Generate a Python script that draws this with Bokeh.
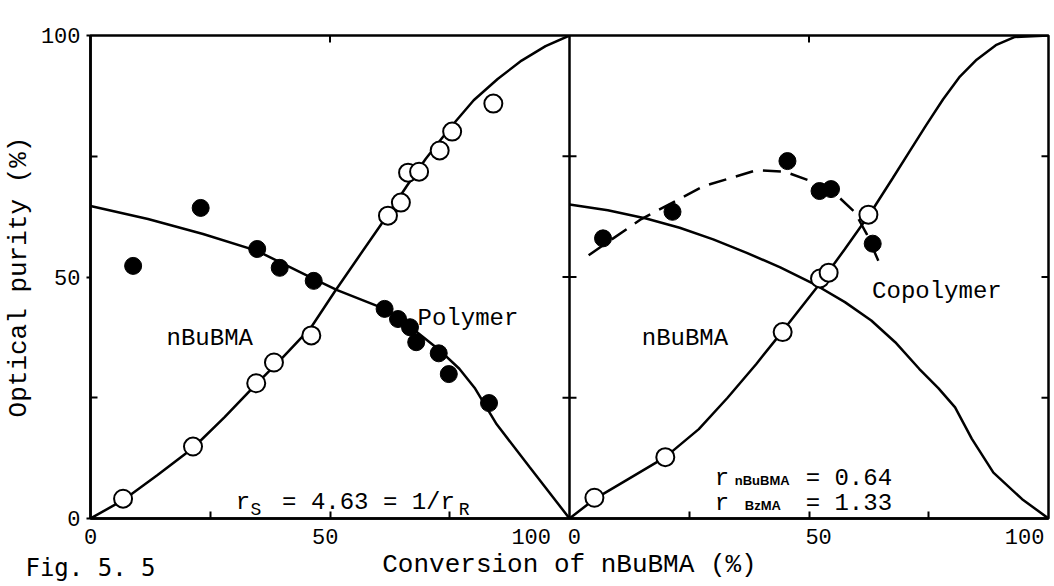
import math
from bokeh.plotting import figure
from bokeh.models import FixedTicker, Label, Span, Range1d, LinearAxis
from bokeh.embed import file_html
from bokeh.resources import INLINE

# ---------------- data ----------------
# Left panel: homopolymerization ("Polymer"), x = conversion of nBuBMA (%)
left_open_x = [6.8, 21.4, 34.6, 38.3, 46.1, 62.1, 64.8, 66.3, 68.6, 72.9, 75.5, 84.1]
left_open_y = [4.1, 14.9, 28.0, 32.3, 37.9, 62.7, 65.4, 71.6, 71.8, 76.2, 80.1, 85.9]
left_filled_x = [8.9, 23.0, 34.8, 39.5, 46.6, 61.4, 64.2, 66.7, 68.0, 72.7, 74.8, 83.2]
left_filled_y = [52.3, 64.3, 55.8, 51.9, 49.2, 43.4, 41.3, 39.6, 36.5, 34.2, 29.9, 23.9]

left_poly_curve_x = [0, 6.8, 14, 21.4, 28, 34.6, 40, 46, 51, 56, 62, 66, 70, 75, 80, 85, 90, 95, 100]
left_poly_curve_y = [0, 3.8, 9.0, 14.6, 21.0, 27.8, 33.2, 39.5, 47.0, 54.2, 62.8, 68.8, 74.5, 80.8, 86.6, 91.0, 94.8, 97.8, 100]
left_mono_curve_x = [0, 12, 23.5, 34.8, 46.6, 51.5, 61.4, 67, 72.7, 77, 80.3, 84.8, 91.7, 100]
left_mono_curve_y = [64.7, 62.0, 58.9, 55.4, 49.6, 47.3, 43.4, 39.5, 35.0, 31.0, 26.9, 19.5, 10.6, 0]

# Right panel: copolymerization ("Copolymer")
right_open_x = [5.2, 20.0, 44.5, 52.3, 54.1, 62.4]
right_open_y = [4.3, 12.7, 38.6, 49.7, 50.9, 62.9]
right_filled_x = [7.0, 21.5, 45.5, 52.2, 54.6, 63.3]
right_filled_y = [58.0, 63.5, 74.0, 67.8, 68.2, 56.9]

right_dash_curve_x = [4.0, 15.0, 28.0, 39.0, 45.0, 50.5, 55.5, 59.5, 62.0, 64.5]
right_dash_curve_y = [54.5, 62.0, 68.8, 72.1, 71.8, 69.8, 67.2, 63.5, 59.0, 53.3]
right_poly_curve_x = [0, 5.2, 12, 20, 27, 33, 39, 44.5, 52, 57.5, 63, 67.5, 71, 74.5, 78, 81.5, 85, 89, 93, 100]
right_poly_curve_y = [0, 4.0, 8.0, 12.7, 18.5, 25.0, 32.0, 38.8, 48.3, 55.8, 63.5, 70.5, 76.0, 81.5, 86.8, 91.5, 95.0, 98.0, 99.7, 100]
right_mono_curve_x = [0, 8, 16, 23, 30, 37, 44, 51.5, 57.5, 63, 68, 73, 77, 80.5, 84, 88.5, 94.5, 100]
right_mono_curve_y = [65.0, 63.8, 62.1, 60.2, 57.8, 55.0, 52.0, 48.3, 44.8, 41.0, 36.5, 31.0, 27.0, 23.0, 16.5, 9.5, 4.0, 0]

# tick labels
x_tick_labels = ["0", "50", "100", "0", "50", "100"]
y_tick_labels = ["0", "50", "100"]
figure_number = "Fig. 5. 5"

# ---------------- layout / style constants ----------------
OFFSET = 100  # right panel is drawn on the same x scale, shifted by 100
X_LABEL_POS = [0, 49, 92, 101, 152, 195]
X_TICK_MARKS = [25, 50, 75, 125, 150, 175]
Y_LABEL_POS = [0, 50, 100]
Y_TICK_MARKS = [25, 75]
FRAME_TICKS = [25, 50, 75]
MONO = "Liberation Mono"
BLACK = "black"
LW = 2.5


def shift(xs):
    return [x + OFFSET for x in xs]


p = figure(width=1052, height=586, x_range=Range1d(0, 200), y_range=Range1d(0, 100),
           output_backend="svg", toolbar_location=None,
           min_border_left=84, min_border_right=4, min_border_top=35, min_border_bottom=68,
           x_axis_label="Conversion of nBuBMA (%)", y_axis_label="Optical purity (%)")
p.grid.visible = False
p.background_fill_color = "white"
p.border_fill_color = "white"
p.outline_line_color = BLACK
p.outline_line_width = LW

# x axis
xax = p.xaxis[0]
xax.ticker = FixedTicker(ticks=X_LABEL_POS, minor_ticks=X_TICK_MARKS)
xax.major_label_overrides = {pos: lab for pos, lab in zip(X_LABEL_POS, x_tick_labels)}
xax.major_tick_in = 0
xax.major_tick_out = 0
xax.minor_tick_in = 7
xax.minor_tick_out = 0
xax.minor_tick_line_width = 2
xax.axis_line_width = LW
xax.major_label_standoff = 10
xax.major_label_text_font = MONO
xax.major_label_text_font_size = "22px"
xax.major_label_text_color = BLACK
xax.axis_label_standoff = 3
xax.axis_label_text_font = MONO
xax.axis_label_text_font_size = "26px"
xax.axis_label_text_font_style = "normal"
xax.axis_label_text_color = BLACK

# figure number: an extra, line-less axis below, pulled up into the title row
fig_axis = LinearAxis(ticker=FixedTicker(ticks=[0]), major_label_overrides={0: figure_number},
                      axis_line_color=None, major_tick_line_color=None,
                      minor_tick_line_color=None, major_label_standoff=-35,
                      major_label_text_font="DejaVu Sans Mono",
                      major_label_text_font_size="24px", major_label_text_color=BLACK)
p.add_layout(fig_axis, "below")

# y axis
yax = p.yaxis[0]
yax.ticker = FixedTicker(ticks=Y_LABEL_POS, minor_ticks=Y_TICK_MARKS)
yax.major_label_overrides = {pos: lab for pos, lab in zip(Y_LABEL_POS, y_tick_labels)}
yax.major_tick_in = 0
yax.major_tick_out = 4
yax.major_tick_line_width = 2
yax.minor_tick_in = 7
yax.minor_tick_out = 0
yax.minor_tick_line_width = 2
yax.axis_line_width = LW
yax.major_label_standoff = 6
yax.major_label_text_font = MONO
yax.major_label_text_font_size = "22px"
yax.major_label_text_color = BLACK
yax.axis_label_standoff = 4
yax.axis_label_text_font = MONO
yax.axis_label_text_font_size = "26px"
yax.axis_label_text_font_style = "normal"
yax.axis_label_text_color = BLACK

# shared boundary between the two panels + frame ticks
p.add_layout(Span(location=OFFSET, dimension="height", line_color=BLACK, line_width=LW))
p.scatter(x=[OFFSET] * len(FRAME_TICKS), y=FRAME_TICKS, marker="dash", size=14,
          line_color=BLACK, line_width=2)
p.scatter(x=[2 * OFFSET] * len(FRAME_TICKS), y=FRAME_TICKS, marker="dash", size=14,
          line_color=BLACK, line_width=2)
p.scatter(x=[50, 50 + OFFSET], y=[100, 100], marker="dash", angle=math.pi / 2, size=14,
          line_color=BLACK, line_width=2)

# curves
p.line(left_poly_curve_x, left_poly_curve_y, line_color=BLACK, line_width=LW)
p.line(left_mono_curve_x, left_mono_curve_y, line_color=BLACK, line_width=LW)
p.line(shift(right_poly_curve_x), right_poly_curve_y, line_color=BLACK, line_width=LW)
p.line(shift(right_mono_curve_x), right_mono_curve_y, line_color=BLACK, line_width=LW)
p.line(shift(right_dash_curve_x), right_dash_curve_y, line_color=BLACK, line_width=LW,
       line_dash="18 10")

# points
p.scatter(left_filled_x, left_filled_y, size=17, fill_color=BLACK, line_color=BLACK)
p.scatter(shift(right_filled_x), right_filled_y, size=17, fill_color=BLACK, line_color=BLACK)
p.scatter(left_open_x, left_open_y, size=18, fill_color="white", line_color=BLACK, line_width=2)
p.scatter(shift(right_open_x), right_open_y, size=18, fill_color="white", line_color=BLACK,
          line_width=2)


def lab(x, y, text, size="24px", font=MONO, align="center", baseline="middle", style="normal"):
    p.add_layout(Label(x=x, y=y, text=text, text_font=font, text_font_size=size,
                       text_align=align, text_baseline=baseline, text_color=BLACK,
                       text_font_style=style))


# panel annotations
lab(24.9, 37.2, "nBuBMA")
lab(78.8, 41.5, "Polymer")
lab(24.1 + OFFSET, 37.2, "nBuBMA")
lab(76.7 + OFFSET, 46.9, "Copolymer")

# r_S = 4.63 = 1/r_R
lab(30.3, 3.4, "r", align="left", baseline="alphabetic")
lab(33.4, 1.7, "S", size="18px", align="left", baseline="alphabetic")
lab(40.0, 3.4, "= 4.63 = 1/r", align="left", baseline="alphabetic")
lab(76.9, 1.7, "R", size="18px", align="left", baseline="alphabetic")

# r_nBuBMA = 0.64, r_BzMA = 1.33
lab(30.3 + OFFSET, 8.3, "r", align="left", baseline="alphabetic")
lab(34.5 + OFFSET, 7.8, "nBuBMA", size="13px", font="Liberation Sans", align="left",
    baseline="alphabetic", style="bold")
lab(49.3 + OFFSET, 8.3, "= 0.64", align="left", baseline="alphabetic")
lab(30.3 + OFFSET, 3.2, "r", align="left", baseline="alphabetic")
lab(36.6 + OFFSET, 2.7, "BzMA", size="13px", font="Liberation Sans", align="left",
    baseline="alphabetic", style="bold")
lab(49.3 + OFFSET, 3.2, "= 1.33", align="left", baseline="alphabetic")

open("out.html", "w").write(file_html(p, INLINE))
